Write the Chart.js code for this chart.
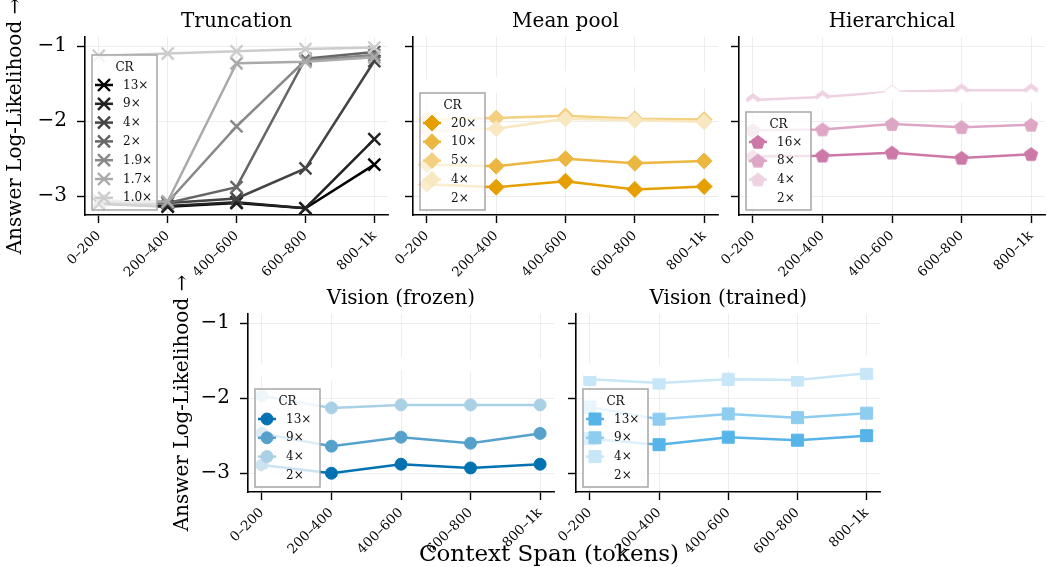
<!DOCTYPE html>
<html>
<head>
<meta charset="utf-8">
<script src="https://cdn.jsdelivr.net/npm/chart.js@4.4.1/dist/chart.umd.min.js"></script>
<style>
  html, body { margin: 0; padding: 0; background: #fff; }
  #fig { position: relative; width: 1047px; height: 567px; overflow: hidden; }
  #fig canvas { position: absolute; }
  #xlabel {
    position: absolute; left: 0; width: 1098px; top: 540px; line-height: 26px;
    text-align: center; font: 23px "DejaVu Serif"; color: #000; z-index: 10;
  }
</style>
</head>
<body>
<div id="fig">
  <div id="xlabel">Context Span (tokens)</div>
</div>
<script>
// Context spans shared by every panel
const spans = ["0–200", "200–400", "400–600", "600–800", "800–1k"];

// Truncation
const truncCR = ["13×", "9×", "4×", "2×", "1.9×", "1.7×", "1.0×"];
const truncLL = [
  [-3.10, -3.14, -3.09, -3.16, -2.58],
  [-3.10, -3.13, -3.08, -3.16, -2.24],
  [-3.07, -3.09, -3.03, -2.63, -1.20],
  [-3.07, -3.09, -2.88, -1.17, -1.08],
  [-3.06, -3.08, -2.07, -1.19, -1.12],
  [-3.06, -3.07, -1.23, -1.21, -1.15],
  [-1.13, -1.10, -1.07, -1.04, -1.02]
];

// Mean pool
const meanCR = ["20×", "10×", "5×", "4×", "2×"];
const meanLL = [
  [-2.84, -2.88, -2.80, -2.91, -2.87],
  [-2.58, -2.60, -2.50, -2.56, -2.53],
  [-1.98, -1.96, -1.93, -1.97, -1.98],
  [-2.13, -2.10, -1.97, -1.99, -2.01],
  [-1.55, -1.52, -1.44, -1.44, -1.45]
];

// Hierarchical
const hierCR = ["16×", "8×", "4×", "2×"];
const hierLL = [
  [-2.47, -2.46, -2.42, -2.49, -2.44],
  [-2.12, -2.11, -2.04, -2.08, -2.05],
  [-1.72, -1.68, -1.61, -1.59, -1.59],
  [-1.79, -1.75, -1.62, -1.66, -1.66]
];

// Vision (frozen)
const frozenCR = ["13×", "9×", "4×", "2×"];
const frozenLL = [
  [-2.89, -3.00, -2.88, -2.93, -2.88],
  [-2.47, -2.64, -2.52, -2.60, -2.47],
  [-1.97, -2.13, -2.09, -2.09, -2.09],
  [-1.63, -1.68, -1.54, -1.57, -1.55]
];

// Vision (trained)
const trainedCR = ["13×", "9×", "4×", "2×"];
const trainedLL = [
  [-2.54, -2.62, -2.52, -2.56, -2.50],
  [-2.12, -2.28, -2.21, -2.26, -2.20],
  [-1.75, -1.80, -1.75, -1.76, -1.67],
  [-1.62, -1.65, -1.55, -1.62, -1.51]
];

const yTicks = [-3, -2, -1];

const SERIF = "DejaVu Serif";
Chart.defaults.font.family = SERIF;

// mix a hex colour toward white by t (0..1)
function tint(hex, t) {
  const n = parseInt(hex.slice(1), 16);
  const c = [(n >> 16) & 255, (n >> 8) & 255, n & 255].map(v => Math.round(v + (255 - v) * t));
  return "rgb(" + c.join(",") + ")";
}
function ramp(hex, count, last) {
  const out = [];
  for (let i = 0; i < count; i++) out.push(tint(hex, (i / (count - 1)) * last));
  return out;
}

// pentagon marker as an image, since Chart.js has no pentagon style
function pentagon(color, r) {
  const c = document.createElement("canvas");
  const s = Math.ceil(r * 2 + 4);
  c.width = s; c.height = s;
  const g = c.getContext("2d");
  g.beginPath();
  for (let k = 0; k < 5; k++) {
    const a = -Math.PI / 2 + k * 2 * Math.PI / 5;
    const px = s / 2 + r * Math.cos(a), py = s / 2 + 0.5 + r * Math.sin(a);
    if (k === 0) g.moveTo(px, py); else g.lineTo(px, py);
  }
  g.closePath();
  g.fillStyle = color; g.fill();
  g.strokeStyle = color; g.lineWidth = 1; g.stroke();
  return c;
}

const YAXIS_W = 85, PLOT_W = 306, PLOT_H = 178, XAXIS_H = 62;
const fig = document.getElementById("fig");

const panels = [
  { title: "Truncation", cr: truncCR, values: truncLL, colors: ramp("#000000", 7, 0.8),
    style: "crossRot", radius: 8.5, edge: 2.4, left: 85, top: 37, padTop: 37, yLabels: true, ytOff: 69 },
  { title: "Mean pool", cr: meanCR, values: meanLL, colors: ramp("#E69F00", 5, 1),
    style: "rectRot", radius: 8, edge: 1, left: 413, top: 37, padTop: 37, yLabels: false },
  { title: "Hierarchical", cr: hierCR, values: hierLL, colors: ramp("#CC79A7", 4, 1),
    style: "pentagon", radius: 7, edge: 1, left: 739, top: 37, padTop: 37, yLabels: false },
  { title: "Vision (frozen)", cr: frozenCR, values: frozenLL, colors: ramp("#0072B2", 4, 1),
    style: "circle", radius: 6, edge: 1, left: 248, top: 314, padTop: 52, yLabels: true, ytOff: 65 },
  { title: "Vision (trained)", cr: trainedCR, values: trainedLL, colors: ramp("#56B4E9", 4, 1),
    style: "rect", radius: 8.5, edge: 1, left: 576, top: 314, padTop: 52, yLabels: false }
];

function markerFor(p, color) {
  return p.style === "pentagon" ? pentagon(color, p.radius) : p.style;
}

// legend box in the lower left corner, like matplotlib's loc="lower left"
function drawLegend(ctx, area, p, styles) {
  const n = p.cr.length;
  const bw = 65, bh = 22 + 19 * n;
  const x0 = area.left + 7, y0 = area.bottom - 5 - bh;
  ctx.save();
  ctx.fillStyle = "rgba(255,255,255,0.8)";
  ctx.fillRect(x0, y0, bw, bh);
  ctx.strokeStyle = "#a6a6a6";
  ctx.lineWidth = 1.5;
  ctx.strokeRect(x0, y0, bw, bh);
  ctx.fillStyle = "#111";
  ctx.font = "12px '" + SERIF + "'";
  ctx.textAlign = "center";
  ctx.textBaseline = "middle";
  ctx.fillText("CR", x0 + bw / 2, y0 + 13);
  for (let i = 0; i < n; i++) {
    const y = y0 + 30 + i * 18.8;
    const col = p.colors[i];
    ctx.strokeStyle = col;
    ctx.lineWidth = 2.5;
    ctx.beginPath();
    ctx.moveTo(x0 + 3, y);
    ctx.lineTo(x0 + 21, y);
    ctx.stroke();
    ctx.fillStyle = col;
    ctx.lineWidth = p.edge;
    Chart.helpers.drawPoint(ctx, { pointStyle: styles[i], radius: p.radius, borderWidth: p.edge, rotation: 0 }, x0 + 12, y);
    ctx.fillStyle = "#111";
    ctx.textAlign = "left";
    ctx.fillText(p.cr[i], x0 + 31, y + 0.5);
  }
  ctx.restore();
}

function makePanel(p) {
  const cv = document.createElement("canvas");
  cv.width = YAXIS_W + PLOT_W + 8;
  cv.height = p.padTop + PLOT_H + XAXIS_H;
  cv.style.left = (p.left - YAXIS_W) + "px";
  cv.style.top = (p.top - p.padTop) + "px";
  fig.appendChild(cv);

  const styles = p.colors.map(c => markerFor(p, c));
  const n = p.values.length;
  const datasets = p.values.map((vals, i) => ({
    label: p.cr[i],
    data: vals.map((v, k) => ({ x: k, y: v })),
    borderColor: p.colors[i],
    backgroundColor: p.colors[i],
    borderWidth: 2.5,
    pointStyle: styles[i],
    pointRadius: p.radius,
    pointBorderWidth: p.edge,
    pointBackgroundColor: p.colors[i],
    pointBorderColor: p.colors[i],
    tension: 0,
    order: n - i // later series drawn on top
  }));

  const decor = {
    id: "decor",
    afterDatasetsDraw(chart) {
      drawLegend(chart.ctx, chart.chartArea, p, styles);
    },
    afterDraw(chart) {
      const ctx = chart.ctx, a = chart.chartArea;
      ctx.save();
      ctx.fillStyle = "#000";
      ctx.font = "20px '" + SERIF + "'";
      ctx.textAlign = "center";
      ctx.textBaseline = "middle";
      ctx.fillText(p.title, (a.left + a.right) / 2, a.top - 15);
      if (p.yLabels) {
        ctx.translate(a.left - p.ytOff, (a.top + a.bottom) / 2);
        ctx.rotate(-Math.PI / 2);
        ctx.fillText("Answer Log-Likelihood →", 0, 0);
      }
      ctx.restore();
    }
  };

  const grid = { color: "#e9e9e9", lineWidth: 0.8, tickColor: "#000", tickLength: 8, tickWidth: 1.4 };

  new Chart(cv, {
    type: "line",
    data: { datasets: datasets },
    options: {
      responsive: false,
      animation: false,
      layout: { padding: { top: p.padTop, right: 8, left: 0, bottom: 0 } },
      plugins: { legend: { display: false }, tooltip: { enabled: false } },
      scales: {
        x: {
          type: "linear", min: -0.2, max: 4.2,
          afterBuildTicks: s => { s.ticks = spans.map((_, i) => ({ value: i })); },
          afterFit: s => { s.height = XAXIS_H; },
          ticks: {
            callback: v => spans[v], minRotation: 45, maxRotation: 45, autoSkip: false,
            color: "#000", font: { family: SERIF, size: 13.5 }, padding: 5
          },
          grid: grid,
          border: { color: "#000", width: 1.6 }
        },
        y: {
          min: -3.25, max: -0.88,
          afterBuildTicks: s => { s.ticks = yTicks.map(v => ({ value: v })); },
          afterFit: s => { s.width = YAXIS_W; },
          ticks: {
            callback: v => (p.yLabels ? "−" + Math.abs(v) : ""),
            color: "#000", font: { family: SERIF, size: 20 }, padding: 10
          },
          grid: grid,
          border: { color: "#000", width: 1.6 }
        }
      }
    },
    plugins: [decor]
  });
}

panels.forEach(makePanel);
</script>
</body>
</html>
